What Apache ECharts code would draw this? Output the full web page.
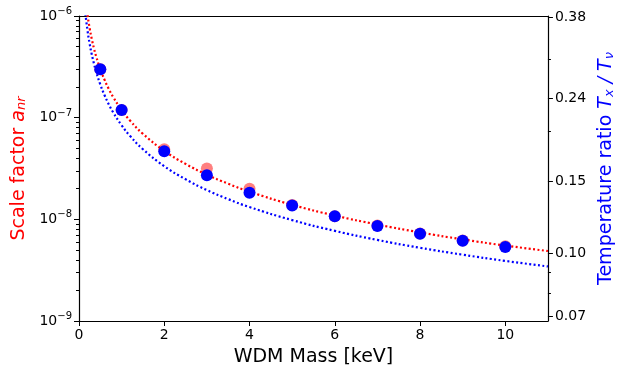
<!DOCTYPE html>
<html>
<head>
<meta charset="utf-8">
<script src="https://cdn.jsdelivr.net/npm/echarts@6/dist/echarts.min.js"></script>
<style>
  html, body { margin: 0; padding: 0; background: #fff; }
  #chart { width: 624px; height: 379px; }
</style>
</head>
<body>
<div id="chart"></div>
<script>
// 数据点
var massPoints = [0.5, 1, 2, 3, 4, 5, 6, 7, 8, 9, 10];
var scaleRed = [3.0e-7, 1.19e-7, 4.9e-8, 3.16e-8, 2.0e-8, 1.38e-8, 1.07e-8, 8.7e-9, 7.25e-9, 6.2e-9, 5.45e-9];
var scaleBlue = [3.0e-7, 1.19e-7, 4.68e-8, 2.72e-8, 1.83e-8, 1.37e-8, 1.07e-8, 8.6e-9, 7.2e-9, 6.16e-9, 5.33e-9];

// 虚线曲线
var redCurveX = [0.2, 0.25, 0.3, 0.35, 0.4, 0.5, 0.6, 0.7, 0.8, 1, 1.2, 1.5, 2, 2.5, 3, 3.5, 4, 5, 6, 7, 8, 9, 10, 11];
var redCurveY = [1.017e-6, 7.56e-7, 5.93e-7, 4.82e-7, 4.04e-7, 3.0e-7, 2.35e-7, 1.91e-7, 1.60e-7, 1.19e-7, 9.33e-8, 6.93e-8,
                 4.72e-8, 3.51e-8, 2.75e-8, 2.24e-8, 1.87e-8, 1.39e-8, 1.09e-8, 8.89e-9, 7.44e-9, 6.35e-9, 5.52e-9, 4.88e-9];
var blueCurveX = [0.15, 0.2, 0.25, 0.3, 0.35, 0.4, 0.5, 0.6, 0.7, 0.8, 1, 1.2, 1.5, 2, 2.5, 3, 3.5, 4, 5, 6, 7, 8, 9, 10, 11];
var blueCurveY = [1.054e-6, 7.18e-7, 5.33e-7, 4.18e-7, 3.41e-7, 2.85e-7, 2.12e-7, 1.66e-7, 1.35e-7, 1.13e-7, 8.40e-8, 6.59e-8,
                  4.89e-8, 3.33e-8, 2.48e-8, 1.94e-8, 1.58e-8, 1.32e-8, 9.83e-9, 7.70e-9, 6.27e-9, 5.25e-9, 4.49e-9, 3.90e-9, 3.44e-9];

// 刻度
var xTicks = [0, 2, 4, 6, 8, 10];
var leftMajor = [1e-9, 1e-8, 1e-7, 1e-6];
var leftMinor = [2e-9, 3e-9, 4e-9, 5e-9, 6e-9, 7e-9, 8e-9, 9e-9,
                 2e-8, 3e-8, 4e-8, 5e-8, 6e-8, 7e-8, 8e-8, 9e-8,
                 2e-7, 3e-7, 4e-7, 5e-7, 6e-7, 7e-7, 8e-7, 9e-7];
var rightMajor = [0.07, 0.10, 0.15, 0.24, 0.38];
var rightMinor = [0.08, 0.09, 0.2, 0.3];

var FONT = 'DejaVu Sans';

function zip(xs, ys) {
    return xs.map(function (x, i) { return [x, ys[i]]; });
}

var myChart = echarts.init(document.getElementById('chart'), null, { renderer: 'canvas' });

var spine = { show: true, lineStyle: { color: '#000', width: 1.2 } };
var dotted = [2, 2.4];

option = {
    animation: false,
    grid: { left: 79, right: 76, top: 16, bottom: 58 },
    xAxis: [{
        type: 'value',
        min: 0, max: 11,
        position: 'bottom',
        name: 'WDM Mass [keV]',
        nameLocation: 'middle',
        nameGap: 27,
        nameTextStyle: { fontFamily: FONT, fontSize: 19, color: '#000' },
        axisLine: spine,
        axisTick: { show: true, inside: false, length: 5, customValues: xTicks, lineStyle: { color: '#000' } },
        axisLabel: { customValues: xTicks, fontFamily: FONT, fontSize: 14, color: '#000', margin: 7 },
        splitLine: { show: false }
    }, {
        // 上边框
        type: 'value',
        min: 0, max: 11,
        position: 'top',
        axisLine: spine,
        axisTick: { show: false },
        axisLabel: { show: false },
        splitLine: { show: false }
    }],
    yAxis: [{
        type: 'log',
        logBase: 10,
        min: 1e-9, max: 1e-6,
        position: 'left',
        name: 'Scale factor {i|a}{sub|nr}',
        nameLocation: 'middle',
        nameRotate: 90,
        nameGap: 50,
        nameTextStyle: {
            fontFamily: FONT, fontSize: 19, color: '#ff0000',
            rich: {
                i: { fontFamily: FONT, fontSize: 19, fontStyle: 'italic', color: '#ff0000' },
                sub: { fontFamily: FONT, fontSize: 13, fontStyle: 'italic', color: '#ff0000', verticalAlign: 'bottom', padding: [6, 0, 0, 0] }
            }
        },
        axisLine: spine,
        axisTick: { show: true, length: 5, customValues: leftMajor, lineStyle: { color: '#000' } },
        axisLabel: {
            customValues: leftMajor,
            margin: 7,
            formatter: function (v) {
                var e = Math.round(Math.log10(v));
                return '{b|10}{s|\u2212' + (-e) + '}';
            },
            rich: {
                b: { fontFamily: FONT, fontSize: 14, color: '#000' },
                s: { fontFamily: FONT, fontSize: 10, color: '#000', padding: [0, 0, 9, 0] }
            }
        },
        splitLine: { show: false }
    }, {
        // 左侧次刻度
        type: 'log',
        logBase: 10,
        min: 1e-9, max: 1e-6,
        position: 'left',
        axisLine: { show: false },
        axisTick: { show: true, length: 3, customValues: leftMinor, lineStyle: { color: '#000' } },
        axisLabel: { show: false },
        splitLine: { show: false }
    }, {
        type: 'log',
        logBase: 10,
        min: 0.0682, max: 0.3828,
        position: 'right',
        name: 'Temperature ratio {i|T}{sub|x}{i| / T}{sub|\u03bd}',
        nameLocation: 'middle',
        nameRotate: 90,
        nameGap: 47,
        nameTextStyle: {
            fontFamily: FONT, fontSize: 19, color: '#0000ff',
            rich: {
                i: { fontFamily: FONT, fontSize: 19, fontStyle: 'italic', color: '#0000ff' },
                sub: { fontFamily: FONT, fontSize: 13, fontStyle: 'italic', color: '#0000ff', verticalAlign: 'bottom', padding: [6, 0, 0, 0] }
            }
        },
        axisLine: spine,
        axisTick: { show: true, length: 5, customValues: rightMajor, lineStyle: { color: '#000' } },
        axisLabel: {
            customValues: rightMajor,
            margin: 7,
            fontFamily: FONT, fontSize: 14, color: '#000',
            formatter: function (v) { return v.toFixed(2); }
        },
        splitLine: { show: false }
    }, {
        // 右侧次刻度
        type: 'log',
        logBase: 10,
        min: 0.0682, max: 0.3828,
        position: 'right',
        axisLine: { show: false },
        axisTick: { show: true, length: 3, customValues: rightMinor, lineStyle: { color: '#000' } },
        axisLabel: { show: false },
        splitLine: { show: false }
    }],
    series: [{
        name: 'red curve',
        type: 'line',
        yAxisIndex: 0,
        data: zip(redCurveX, redCurveY),
        smooth: true,
        showSymbol: false,
        clip: true,
        lineStyle: { color: '#ff0000', width: 2.2, type: dotted, cap: 'butt' },
        z: 2
    }, {
        name: 'blue curve',
        type: 'line',
        yAxisIndex: 0,
        data: zip(blueCurveX, blueCurveY),
        smooth: true,
        showSymbol: false,
        clip: true,
        lineStyle: { color: '#0000ff', width: 2.2, type: dotted, cap: 'butt' },
        z: 2
    }, {
        name: 'red points',
        type: 'scatter',
        yAxisIndex: 0,
        data: zip(massPoints, scaleRed),
        symbolSize: 12,
        itemStyle: { color: 'rgba(255, 0, 0, 0.5)', opacity: 1 },
        z: 3
    }, {
        name: 'blue points',
        type: 'scatter',
        yAxisIndex: 0,
        data: zip(massPoints, scaleBlue),
        symbolSize: 12,
        itemStyle: { color: '#0000ff', opacity: 1 },
        z: 4
    }]
};
myChart.setOption(option);
</script>
</body>
</html>
